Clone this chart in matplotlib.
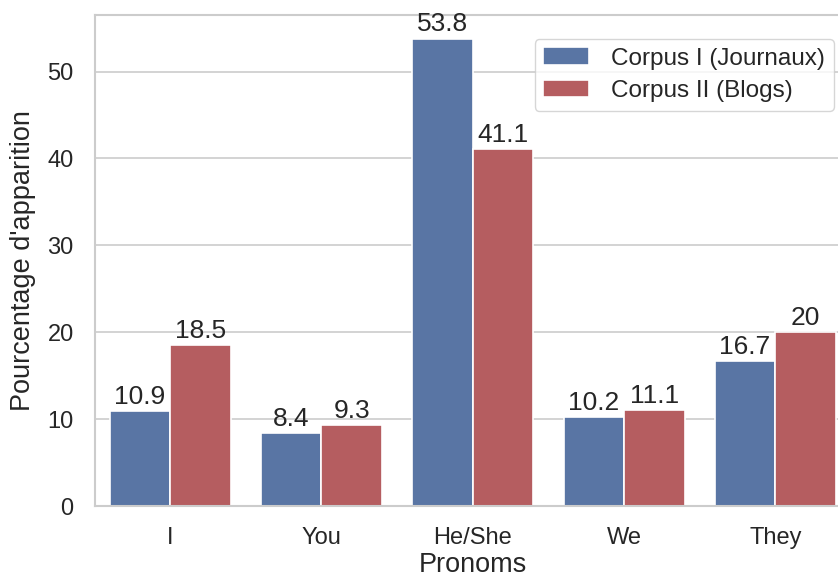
import matplotlib
matplotlib.use("Agg")
import matplotlib.pyplot as plt
import numpy as np

categories = ["I", "You", "He/She", "We", "They"]
corpus1 = [10.9, 8.4, 53.8, 10.2, 16.7]
corpus2 = [18.5, 9.3, 41.1, 11.1, 20]
labels1 = ["10.9", "8.4", "53.8", "10.2", "16.7"]
labels2 = ["18.5", "9.3", "41.1", "11.1", "20"]
series_names = ["Corpus I (Journaux)", "Corpus II (Blogs)"]

plt.rcParams['font.family'] = ['Liberation Sans', 'DejaVu Sans']

fig = plt.figure(figsize=(8.38, 5.79), dpi=100)
ax = fig.add_axes([0.1128, 0.126, 0.9027, 0.848])

x = np.arange(len(categories))
w = 0.4
b1 = ax.bar(x - w/2, corpus1, w, color="#5975a4", edgecolor="white", linewidth=1.2, label=series_names[0], zorder=2)
b2 = ax.bar(x + w/2, corpus2, w, color="#b55d60", edgecolor="white", linewidth=1.2, label=series_names[1], zorder=2)
ax.bar_label(b1, labels=labels1, fontsize=19, color="#262626", padding=1.5)
ax.bar_label(b2, labels=labels2, fontsize=19, color="#262626", padding=1.5)

ax.set_xlim(-0.5, 4.5)
ax.set_ylim(0, 56.5)
ax.set_xticks(x)
ax.set_xticklabels(categories)
ax.set_yticks([0, 10, 20, 30, 40, 50])
ax.tick_params(axis='both', labelsize=17, colors="#262626", length=0, pad=15)
ax.yaxis.grid(True, color="#cccccc", linewidth=1.2, zorder=0)
ax.set_axisbelow(True)
for s in ax.spines.values():
    s.set_color("#cccccc")
    s.set_linewidth(1.5)
ax.set_xlabel("Pronoms", fontsize=19.5, color="#262626", labelpad=2.5)
ax.set_ylabel("Pourcentage d'apparition", fontsize=19.5, color="#262626", labelpad=8)

leg = ax.legend(loc="upper right", bbox_to_anchor=(0.993, 0.976), fontsize=17.5,
                frameon=True, fancybox=True, edgecolor="#cccccc", handlelength=1.9,
                handletextpad=0.9, borderpad=0.35, labelspacing=0.45)
for t in leg.get_texts():
    t.set_color("#262626")

fig.savefig("out.png", dpi=100)
